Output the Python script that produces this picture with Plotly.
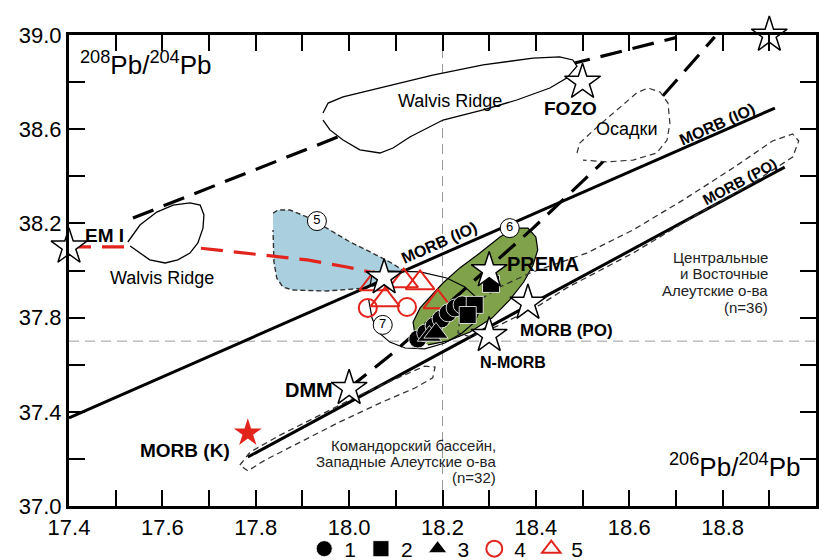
import plotly.graph_objects as go

FONT = "Arial, Liberation Sans, sans-serif"

# ---------------- data (208Pb/204Pb vs 206Pb/204Pb) ----------------
# sample groups 1..5
g1_x = [18.147, 18.164, 18.182, 18.197, 18.212, 18.227, 18.242]
g1_y = [37.709, 37.735, 37.764, 37.794, 37.820, 37.841, 37.854]
g2_x = [18.304, 18.269, 18.254]
g2_y = [37.943, 37.854, 37.811]
g3_x = [18.172, 18.186]
g3_y = [37.722, 37.735]
g4_x = [18.040, 18.124]
g4_y = [37.841, 37.845]
g5_x = [18.053, 18.117, 18.152, 18.077, 18.190]
g5_y = [37.943, 37.955, 37.947, 37.875, 37.866]

# mantle end-members (open stars)
em_x = [17.40, 18.90, 18.50, 18.30, 18.383, 18.30, 18.00, 18.075]
em_y = [38.10, 39.00, 38.80, 38.00, 37.862, 37.725, 37.50, 37.97]
morbk_x = [17.783]
morbk_y = [37.310]

# reference lines
morb_io_x = [17.40, 18.912]
morb_io_y = [37.374, 38.690]
morb_po_x = [17.783, 18.933]
morb_po_y = [37.208, 38.439]
em1_em2_x = [17.537, 17.976, 18.4835, 18.702]
em1_em2_y = [38.223, 38.567, 38.881, 38.99]
dmm_em2_x = [18.000, 18.094, 18.394, 18.537, 18.670, 18.783]
dmm_em2_y = [37.501, 37.650, 38.180, 38.448, 38.737, 38.992]
red_x = [17.40, 17.53, 17.68, 17.81, 17.910, 17.995, 18.066]
red_y = [38.10, 38.10, 38.095, 38.066, 38.045, 38.015, 37.985]

# fields
walvis1_x = [17.944, 17.955, 17.987, 18.072, 18.179, 18.287, 18.394, 18.451, 18.479, 18.488, 18.466,
             18.430, 18.359, 18.287, 18.201, 18.130, 18.094, 18.066, 18.023, 17.987, 17.959, 17.944]
walvis1_y = [38.669, 38.711, 38.737, 38.779, 38.830, 38.873, 38.902, 38.907, 38.894, 38.868, 38.817,
             38.775, 38.724, 38.682, 38.639, 38.567, 38.520, 38.499, 38.512, 38.554, 38.597, 38.639]
walvis2_x = [17.526, 17.552, 17.588, 17.623, 17.659, 17.681, 17.689, 17.687, 17.676, 17.659, 17.633,
             17.606, 17.573, 17.548, 17.531]
walvis2_y = [38.121, 38.193, 38.248, 38.278, 38.287, 38.278, 38.236, 38.180, 38.117, 38.074, 38.045,
             38.032, 38.045, 38.079, 38.104]
f5_x = [17.837, 17.848, 17.873, 17.910, 17.952, 18.002, 18.045, 18.087, 18.115, 18.077, 18.038,
        17.952, 17.880, 17.858, 17.845, 17.839, 17.837]
f5_y = [38.244, 38.257, 38.257, 38.227, 38.180, 38.121, 38.079, 38.036, 38.002, 37.951, 37.926,
        37.913, 37.917, 37.930, 37.968, 38.036, 38.172]
f6_x = [18.141, 18.137, 18.152, 18.173, 18.201, 18.237, 18.280, 18.323, 18.355, 18.383, 18.400,
        18.404, 18.394, 18.374, 18.344, 18.306, 18.259, 18.212, 18.169]
f6_y = [37.726, 37.781, 37.841, 37.887, 37.947, 38.011, 38.074, 38.142, 38.180, 38.180, 38.142,
        38.087, 38.023, 37.951, 37.875, 37.798, 37.739, 37.701, 37.684]
f7_x = [18.045, 18.049, 18.072, 18.152, 18.209, 18.248, 18.274, 18.280, 18.269, 18.242, 18.205,
        18.162, 18.120, 18.087, 18.062, 18.049, 18.042]
f7_y = [37.938, 37.981, 37.998, 37.994, 37.968, 37.930, 37.883, 37.832, 37.781, 37.735, 37.692,
        37.667, 37.671, 37.696, 37.739, 37.798, 37.875]
sed_x = [18.488, 18.494, 18.531, 18.573, 18.616, 18.640, 18.666, 18.683, 18.687, 18.681, 18.659,
         18.608, 18.552, 18.501]
sed_y = [38.499, 38.541, 38.609, 38.682, 38.754, 38.775, 38.758, 38.711, 38.626, 38.554, 38.499,
         38.469, 38.461, 38.469]
west_x = [17.766, 17.788, 17.852, 17.937, 18.023, 18.109, 18.162, 18.184, 18.179, 18.141, 18.066,
          17.980, 17.895, 17.820, 17.783, 17.766]
west_y = [37.174, 37.229, 37.301, 37.386, 37.471, 37.548, 37.594, 37.590, 37.544, 37.501, 37.437,
          37.357, 37.272, 37.195, 37.149, 37.174]
east_x = [18.237, 18.280, 18.323, 18.387, 18.509, 18.608, 18.715, 18.822, 18.907, 18.950, 18.963,
          18.950, 18.865, 18.751, 18.608, 18.466, 18.409, 18.323, 18.259, 18.233, 18.237]
east_y = [37.790, 37.875, 37.930, 37.989, 38.074, 38.172, 38.299, 38.435, 38.550, 38.580, 38.550,
          38.482, 38.372, 38.244, 38.074, 37.926, 37.854, 37.769, 37.718, 37.735, 37.790]

field_nums = ["5", "6", "7"]
field_num_x = [17.931, 18.344, 18.072]
field_num_y = [38.210, 38.180, 37.769]

east_lines = ["Центральные", "и Восточные", "Алеутские о-ва", "(n=36)"]
west_lines = ["Командорский бассейн,", "Западные Алеутские о-ва", "(n=32)"]

x_range = [17.4, 19.0]
y_range = [37.0, 39.0]
grid_x = 18.2
grid_y = 37.7

# ---------------- figure ----------------
fig = go.Figure()

def poly(x, y, fill=None, line_color="black", width=1.3, dash="solid"):
    fig.add_trace(go.Scatter(
        x=x, y=y, mode="lines", showlegend=False, hoverinfo="skip",
        fill="toself" if fill else None, fillcolor=fill,
        line=dict(color=line_color, width=width, dash=dash)))

def line(x, y, color="black", width=2.5, dash="solid"):
    fig.add_trace(go.Scatter(
        x=x, y=y, mode="lines", showlegend=False, hoverinfo="skip", cliponaxis=False,
        line=dict(color=color, width=width, dash=dash)))

# fields below
poly(f5_x, f5_y, fill="#aad0e0", line_color="#333333", width=1.4, dash="5px,3px")
poly(f6_x, f6_y, fill="#7fa24a", line_color="black", width=1.2)

# dashed mixing lines
line(em1_em2_x, em1_em2_y, width=3.2, dash="22px,11px")
line(red_x, red_y, color="#e3241d", width=3.2, dash="22px,11px")
line(dmm_em2_x, dmm_em2_y, width=3.2, dash="22px,11px")

# Walvis Ridge and sediment fields (white-filled)
poly(walvis1_x, walvis1_y, fill="white", width=1.3)
poly(walvis2_x, walvis2_y, fill="white", width=1.3)
poly(sed_x, sed_y, fill="white", line_color="#333333", width=1.2, dash="6px,4px")

# MORB lines
line(morb_io_x, morb_io_y, width=3)
line(morb_po_x, morb_po_y, width=3)

# envelopes
poly(west_x, west_y, line_color="#333333", width=1.3, dash="6px,4px")
poly(east_x, east_y, line_color="#333333", width=1.3, dash="6px,4px")
poly(f7_x, f7_y, line_color="black", width=1.2)

# samples
fig.add_trace(go.Scatter(x=g4_x, y=g4_y, mode="markers", name="4", legendrank=4,
                         marker=dict(symbol="circle-open", size=18, color="#e3241d", line=dict(width=2))))
fig.add_trace(go.Scatter(x=g5_x, y=g5_y, mode="markers", name="5", legendrank=5,
                         marker=dict(symbol="triangle-up-open", size=25, color="#e3241d", line=dict(width=2))))
fig.add_trace(go.Scatter(x=g1_x, y=g1_y, mode="markers", name="1", legendrank=1,
                         marker=dict(symbol="circle", size=18, color="black", line=dict(color="white", width=0.8))))
fig.add_trace(go.Scatter(x=g2_x, y=g2_y, mode="markers", name="2", legendrank=2,
                         marker=dict(symbol="square", size=17, color="black", line=dict(color="white", width=0.8))))
fig.add_trace(go.Scatter(x=g3_x, y=g3_y, mode="markers", name="3", legendrank=3,
                         marker=dict(symbol="triangle-up", size=21, color="black", line=dict(color="white", width=0.8))))

# end-member stars
fig.add_trace(go.Scatter(x=em_x, y=em_y, mode="markers", showlegend=False, cliponaxis=False,
                         marker=dict(symbol="star", size=27, color="white", line=dict(color="black", width=1.5))))
fig.add_trace(go.Scatter(x=morbk_x, y=morbk_y, mode="markers", showlegend=False,
                         marker=dict(symbol="star", size=21, color="#e3241d", line=dict(width=0))))

# circled field numbers
fig.add_trace(go.Scatter(x=field_num_x, y=field_num_y, mode="markers+text", showlegend=False,
                         text=field_nums, textposition="middle center",
                         textfont=dict(family=FONT, size=13, color="black"),
                         marker=dict(symbol="circle", size=19, color="white", line=dict(color="black", width=1))))

# invisible trace carrying the mirrored (top/right) tick axes
fig.add_trace(go.Scatter(x=x_range, y=y_range, xaxis="x2", yaxis="y2", mode="markers",
                         marker=dict(opacity=0), showlegend=False, hoverinfo="skip"))

# ---------------- annotations ----------------
ann = []

def txt(x, y, s, size=18, bold=False, angle=0, xanchor="center", align="center", color="black"):
    ann.append(dict(x=x, y=y, xref="x", yref="y", text=("<b>%s</b>" % s) if bold else s,
                    showarrow=False, textangle=angle, xanchor=xanchor, yanchor="middle", align=align,
                    font=dict(family=FONT, size=size, color=color)))

txt(17.475, 38.15, "EM I", 19, True)
txt(18.803, 39.047, "EM II", 19, True)
txt(18.475, 38.69, "FOZO", 19, True)
txt(18.334, 38.028, "PREMA", 20, True, xanchor="left")
txt(18.466, 37.747, "MORB (PO)", 17, True)
txt(18.351, 37.611, "N-MORB", 16, True)
txt(17.914, 37.493, "DMM", 20, True)
txt(17.648, 37.234, "MORB (K)", 19, True)
txt(18.788, 38.618, "MORB (IO)", 16, True, angle=-24)
txt(18.194, 38.117, "MORB (IO)", 16, True, angle=-24)
txt(18.837, 38.376, "MORB (PO)", 15, True, angle=-28)
txt(18.216, 38.72, "Walvis Ridge", 18)
txt(17.60, 37.97, "Walvis Ridge", 18)
txt(18.595, 38.60, "Осадки", 18)
for s, yy in zip(east_lines, [38.057, 37.989, 37.917, 37.845]):
    txt(18.901, yy, s, 15, xanchor="right", color="#222222")
for s, yy in zip(west_lines, [37.259, 37.191, 37.123]):
    txt(18.319, yy, s, 15, xanchor="right", color="#222222")

ann.append(dict(x=0.012, y=0.94, xref="paper", yref="paper", xanchor="left", yanchor="middle",
                text="<sup>208</sup>Pb/<sup>204</sup>Pb", showarrow=False,
                font=dict(family=FONT, size=26, color="black")))
ann.append(dict(x=0.982, y=0.085, xref="paper", yref="paper", xanchor="right", yanchor="middle",
                text="<sup>206</sup>Pb/<sup>204</sup>Pb", showarrow=False,
                font=dict(family=FONT, size=26, color="black")))

shapes = [
    dict(type="line", xref="x", yref="y", x0=grid_x, x1=grid_x, y0=y_range[0], y1=y_range[1],
         line=dict(color="#9a9a9a", width=1, dash="10px,6px"), layer="below"),
    dict(type="line", xref="x", yref="y", x0=x_range[0], x1=x_range[1], y0=grid_y, y1=grid_y,
         line=dict(color="#9a9a9a", width=1, dash="10px,6px"), layer="below"),
]

tick_style = dict(ticks="inside", ticklen=16, tickwidth=1.5, tickcolor="black")
axis_common = dict(
    showline=True, linewidth=3, linecolor="black", mirror=True,
    showgrid=False, zeroline=False, tickformat=".1f",
    tickfont=dict(family=FONT, size=22, color="black"), **tick_style,
)
mirror_common = dict(showline=False, showgrid=False, zeroline=False, showticklabels=False, **tick_style)

fig.update_layout(
    width=834, height=560,
    margin=dict(l=69, r=18, t=35, b=54, autoexpand=False),
    paper_bgcolor="white", plot_bgcolor="white",
    xaxis=dict(range=x_range, tick0=17.4, dtick=0.2,
               minor=dict(dtick=0.1, showgrid=False, **tick_style), **axis_common),
    yaxis=dict(range=y_range, tick0=37.0, dtick=0.4,
               minor=dict(dtick=0.2, showgrid=False, **tick_style), **axis_common),
    xaxis2=dict(range=x_range, overlaying="x", side="top", tick0=17.4, dtick=0.1, **mirror_common),
    yaxis2=dict(range=y_range, overlaying="y", side="right", tick0=37.0, dtick=0.2, **mirror_common),
    legend=dict(orientation="h", x=0.505, xanchor="center", y=-0.0913, yanchor="middle",
                font=dict(family=FONT, size=21, color="black"), traceorder="normal",
                itemwidth=30, tracegroupgap=0, bgcolor="rgba(0,0,0,0)"),
    annotations=ann, shapes=shapes,
    showlegend=True,
)

fig.write_html("out.html", config={"displayModeBar": False},
               post_script="document.body.style.margin='0px';")
